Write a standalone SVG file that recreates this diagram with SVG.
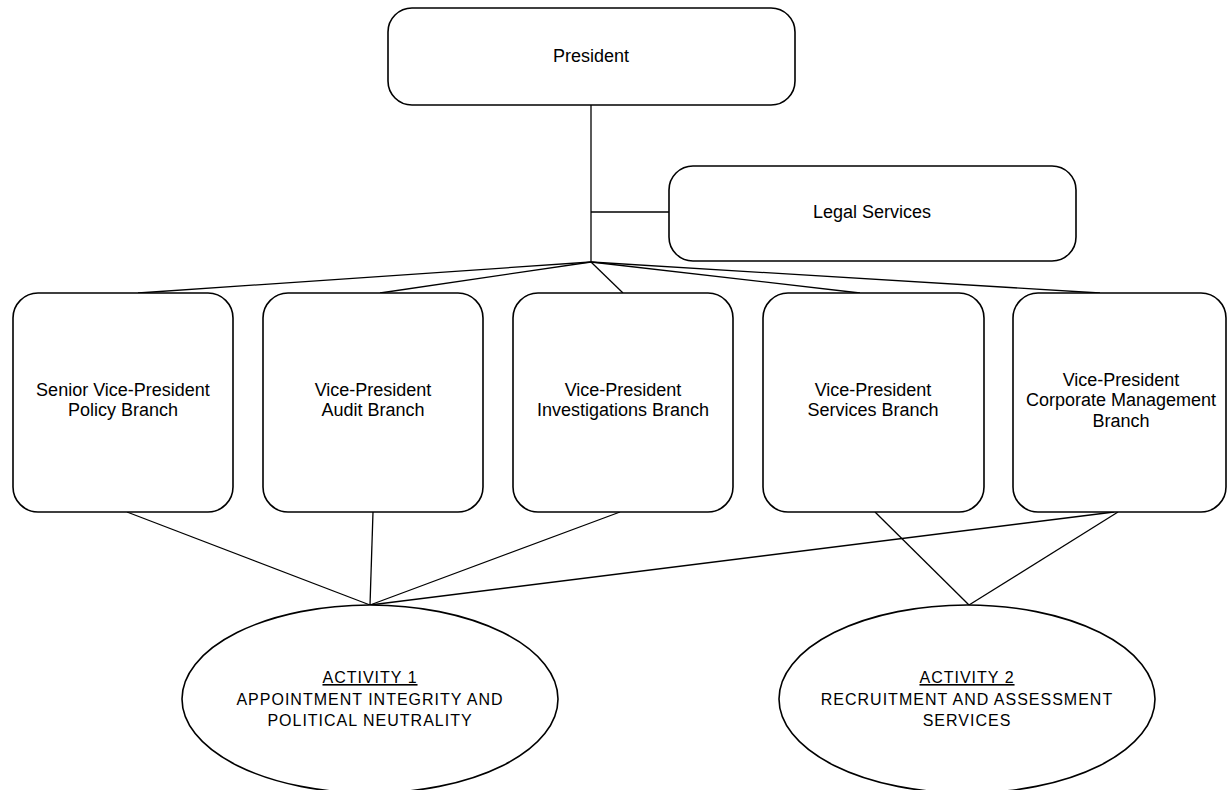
<svg xmlns="http://www.w3.org/2000/svg" width="1228" height="790" viewBox="0 0 1228 790">
<style>
.box{fill:#fff;stroke:#000;stroke-width:1.6}
.t{font-family:"Liberation Sans",Arial,sans-serif;font-size:18px;fill:#000;text-anchor:middle}
.e{font-family:"Liberation Sans",Arial,sans-serif;font-size:16px;letter-spacing:1px;fill:#000;text-anchor:middle}
.u{text-decoration:underline}
.c{stroke:#000;stroke-width:1.3;fill:none}
</style>
<rect width="1228" height="790" fill="#fff"/>
<g id="connectors">
<line class="c" x1="591" y1="105" x2="591" y2="262"/>
<line class="c" x1="591" y1="212" x2="669" y2="212"/>
<line class="c" x1="591" y1="262" x2="138" y2="293"/>
<line class="c" x1="591" y1="262" x2="380" y2="293"/>
<line class="c" x1="591" y1="262" x2="623" y2="293"/>
<line class="c" x1="591" y1="262" x2="860" y2="293"/>
<line class="c" x1="591" y1="262" x2="1100" y2="293"/>
<line class="c" x1="127" y1="512" x2="370" y2="605"/>
<line class="c" x1="373" y1="512" x2="370" y2="605"/>
<line class="c" x1="620" y1="512" x2="370" y2="605"/>
<line class="c" x1="1114" y1="512" x2="370" y2="605"/>
<line class="c" x1="875" y1="512" x2="969" y2="605"/>
<line class="c" x1="1118" y1="512" x2="969" y2="605"/>
</g>
<g id="president">
<rect class="box" x="388" y="8" width="407" height="97" rx="24" ry="24"/>
<text class="t" x="591" y="62">President</text>
</g>
<g id="legal">
<rect class="box" x="669" y="166" width="407" height="95" rx="24" ry="24"/>
<text class="t" x="872" y="218">Legal Services</text>
</g>
<g id="policy">
<rect class="box" x="13" y="293" width="220" height="219" rx="25" ry="25"/>
<text class="t" x="123" y="396">Senior Vice-President</text>
<text class="t" x="123" y="416">Policy Branch</text>
</g>
<g id="audit">
<rect class="box" x="263" y="293" width="220" height="219" rx="25" ry="25"/>
<text class="t" x="373" y="396">Vice-President</text>
<text class="t" x="373" y="416">Audit Branch</text>
</g>
<g id="investigations">
<rect class="box" x="513" y="293" width="220" height="219" rx="25" ry="25"/>
<text class="t" x="623" y="396">Vice-President</text>
<text class="t" x="623" y="416">Investigations Branch</text>
</g>
<g id="services">
<rect class="box" x="763" y="293" width="221" height="219" rx="25" ry="25"/>
<text class="t" x="873" y="396">Vice-President</text>
<text class="t" x="873" y="416">Services Branch</text>
</g>
<g id="corporate">
<rect class="box" x="1013" y="293" width="213" height="219" rx="25" ry="25"/>
<text class="t" x="1121" y="386">Vice-President</text>
<text class="t" x="1121" y="406">Corporate Management</text>
<text class="t" x="1121" y="427">Branch</text>
</g>
<g id="activity1">
<ellipse class="box" cx="370" cy="699" rx="188" ry="94"/>
<text class="e u" x="370" y="683">ACTIVITY 1</text>
<text class="e" x="370" y="705">APPOINTMENT INTEGRITY AND</text>
<text class="e" x="370" y="726">POLITICAL NEUTRALITY</text>
</g>
<g id="activity2">
<ellipse class="box" cx="967" cy="699" rx="188" ry="94"/>
<text class="e u" x="967" y="683">ACTIVITY 2</text>
<text class="e" x="967" y="705">RECRUITMENT AND ASSESSMENT</text>
<text class="e" x="967" y="726">SERVICES</text>
</g>
</svg>
